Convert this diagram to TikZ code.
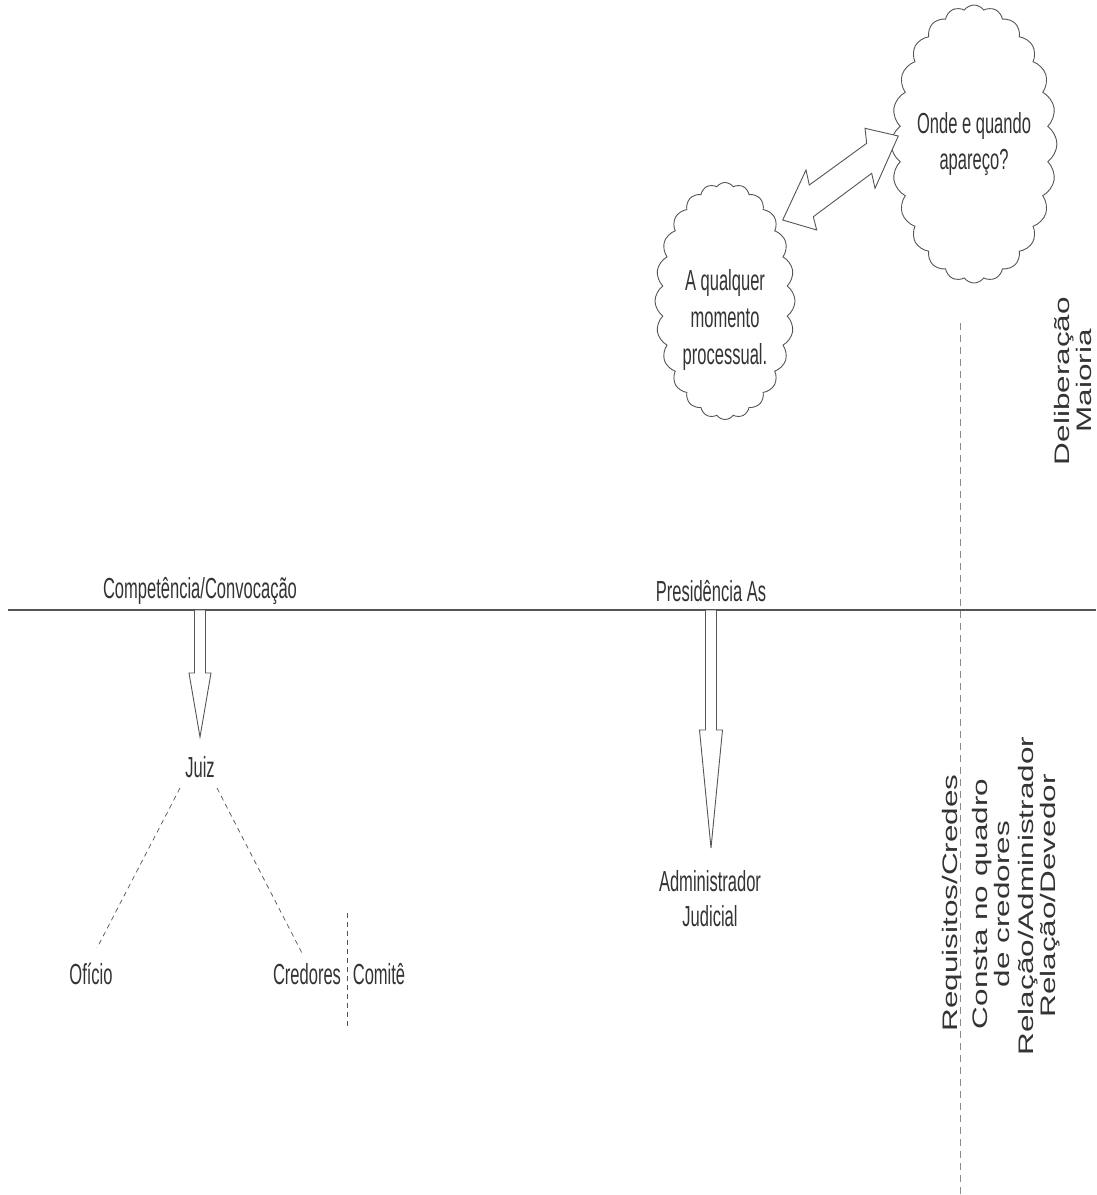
\documentclass[tikz,border=0pt]{standalone}
\usepackage{fontspec}
\setmainfont{Liberation Sans}
\newfontfamily\narrowsf[FakeStretch=0.57]{Liberation Sans}
\newfontfamily\widesf[FakeStretch=1.5]{Liberation Sans}
\usetikzlibrary{shapes,calc,positioning}

\definecolor{ink}{HTML}{333333}
\definecolor{rulegray}{HTML}{555555}
\definecolor{dashgray}{HTML}{8C8C8C}

\tikzset{
  lbl/.style={text=ink, font=\narrowsf\fontsize{29}{35}\selectfont, align=center, inner sep=2pt},
  vlbl/.style={text=ink, font=\widesf\fontsize{21}{21.5}\selectfont, align=center, rotate=90, inner sep=0pt},
  cloudbox/.style={draw=rulegray, line width=0.9pt, shape=cloud, cloud puffs=24, cloud puff arc=110,
    cloud ignores aspect, inner sep=0pt, text=ink, font=\narrowsf\fontsize{29}{36}\selectfont, align=center},
  hollow/.style={draw=rulegray, line width=0.9pt, fill=white, line join=miter},
  branch/.style={draw=rulegray, dash pattern=on 5pt off 4pt, line width=0.7pt},
  divider/.style={draw=dashgray, dash pattern=on 7pt off 5pt, line width=1pt},
  baseline rule/.style={draw=rulegray, line width=1.4pt}
}

% hollow block arrow: tail, tip, half shaft, half head, head length
\newcommand\hollowarrow[5]{%
  \coordinate (hb) at ($(#2)!#5!(#1)$);
  \draw[hollow] ($(#1)!#3!90:(#2)$) -- ($(hb)!#3!90:(#2)$) -- ($(hb)!#4!90:(#2)$) -- (#2)
    -- ($(hb)!#4!-90:(#2)$) -- ($(hb)!#3!-90:(#2)$) -- ($(#1)!#3!-90:(#2)$) -- cycle;
}

\begin{document}
\begin{tikzpicture}[x=1pt, y=-1pt]
  \useasboundingbox (0,0) rectangle (1096,1195);

  % clouds
  \node[cloudbox, minimum width=148pt, minimum height=278pt] (onde) at (974,144) {Onde e quando\\apareço?};
  \node[cloudbox, minimum width=140pt, minimum height=237pt] (qualquer) at (725,301) {};
  \node[lbl, font=\narrowsf\fontsize{29}{37}\selectfont] (qualquertxt) at (725,320) {A qualquer\\momento\\processual.};
  % slanted double arrow between the clouds
  \coordinate (linkA) at (782.7,220);
  \coordinate (linkB) at (898.3,136);
  \draw[hollow] (linkA) -- ($(linkA)+(23.3,-50)$) -- ($(linkA)+(26.6,-35)$)
    -- ($(linkB)+(-31.6,7.3)$) -- ($(linkB)+(-33.3,-7.7)$) -- (linkB)
    -- ($(linkB)+(-23.3,52.3)$) -- ($(linkB)+(-26.6,37.3)$)
    -- ($(linkA)+(30.6,-3.3)$) -- ($(linkA)+(34,10)$) -- cycle;

  % the rule and its two headings
  \coordinate (ruleL) at (8,610);
  \coordinate (ruleR) at (1096,610);
  \draw[baseline rule] (ruleL) -- (ruleR);
  \node[lbl] (comp) at (200,591) {Competência/Convocação};
  \node[lbl] (pres) at (711,591) {Presidência As};

  % left branch
  \node[lbl] (juiz) at (200,767) {Juiz};
  \node[lbl] (oficio) at (91,974) {Ofício};
  \node[lbl] (credores) at (307,974) {Credores};
  \node[lbl] (comite) at (379,974) {Comitê};
  \coordinate (juizTip) at (200,737);
  \hollowarrow{comp.south |- ruleL}{juizTip}{5.5pt}{11pt}{64pt}
  \draw[branch] ([shift={(-20,21)}]juiz.center) -- ([shift={(6,-26)}]oficio.center);
  \draw[branch] ([shift={(17,21)}]juiz.center) -- ([shift={(-5,-21)}]credores.center);
  \draw[branch] ($(credores.east)!.5!(comite.west)$) ++(0,-61) -- ++(0,117);

  % middle branch
  \node[lbl] (admin) at (710,899) {Administrador\\Judicial};
  \coordinate (adminTip) at (711,848);
  \hollowarrow{pres.south |- ruleL}{adminTip}{5.5pt}{11.5pt}{118pt}

  % right column
  \coordinate (sepTop) at (960,323);
  \coordinate (sepBot) at (960,1195);
  \draw[divider] (sepTop) -- (sepBot);
  \node[vlbl] (delib) at (1073,381) {Deliberação\\Maioria};
  \node[vlbl] (requisitos) at (952,903) {Requisitos/Credes};
  \node[vlbl] (consta) at (991,904) {Consta no quadro\\de credores};
  \node[vlbl] (relacao) at (1039,896) {Relação/Administrador\\Relação/Devedor};
\end{tikzpicture}
\end{document}
